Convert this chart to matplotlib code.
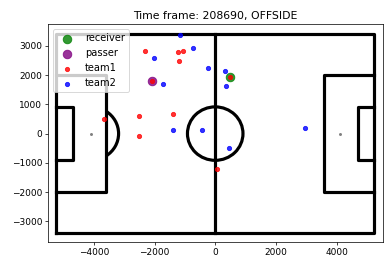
import numpy as np
import matplotlib
matplotlib.use("Agg")
import matplotlib.pyplot as plt
from matplotlib.patches import Circle, Arc

# Player data (pitch coordinates, cm)
team1_x = [-2310, -1243, -1067, -1210, -2068, 495, -3674, -2519, -1408, -2497, 55]
team1_y = [2840, 2795, 2841, 2477, 1795, 1932, 500, 614, 682, -91, -1205]
team2_x = [-1177, -748, -2002, -253, 319, 341, -1727, -1386, -440, 462, 2970]
team2_y = [3386, 2943, 2591, 2239, 2159, 1614, 1682, 114, 114, -489, 205]
receiver_xy = (495, 1932)
passer_xy = (-2068, 1795)
frame_id = 208690
event_label = "OFFSIDE"

# Pitch geometry
half_len, half_wid = 5250, 3400
box_x, box_y = 3600, 2000
goal_x, goal_y = 4700, 916
spot_x = 4100
circle_r = 915

fig = plt.figure(figsize=(6, 269 / 65), dpi=65)
ax = fig.add_axes([0.124, 0.1015, 0.858, 0.808])

lw = 3.5
kw = dict(color="black", lw=lw, zorder=1, solid_capstyle="projecting")
# outer boundary
ax.plot([-half_len, half_len, half_len, -half_len, -half_len],
        [-half_wid, -half_wid, half_wid, half_wid, -half_wid], **kw)
# halfway line
ax.plot([0, 0], [-half_wid, half_wid], **kw)
for s in (-1, 1):
    ax.plot([s * half_len, s * box_x, s * box_x, s * half_len],
            [box_y, box_y, -box_y, -box_y], **kw)
    ax.plot([s * half_len, s * goal_x, s * goal_x, s * half_len],
            [goal_y, goal_y, -goal_y, -goal_y], **kw)
ax.add_patch(Circle((0, 0), circle_r, fill=False, ec="black", lw=lw, zorder=1))
ang = np.degrees(np.arccos((spot_x - box_x) / circle_r))
ax.add_patch(Arc((-spot_x, 0), 2 * circle_r, 2 * circle_r, theta1=-ang, theta2=ang,
                 ec="black", lw=lw, zorder=1))
ax.scatter([-spot_x, spot_x], [0, 0], s=5, color="gray", zorder=2)

ax.scatter([receiver_xy[0]], [receiver_xy[1]], s=90, color="green", alpha=0.8,
           label="receiver", zorder=3)
ax.scatter([passer_xy[0]], [passer_xy[1]], s=90, color="purple", alpha=0.8,
           label="passer", zorder=3)
ax.scatter(team1_x, team1_y, s=22, color="red", alpha=0.8, label="team1", zorder=4)
ax.scatter(team2_x, team2_y, s=22, color="blue", alpha=0.8, label="team2", zorder=4)

ax.set_xlim(-5500, 5530)
ax.set_ylim(-3700, 3740)
ax.set_xticks([-4000, -2000, 0, 2000, 4000])
ax.set_yticks([-3000, -2000, -1000, 0, 1000, 2000, 3000])
ax.set_title(f"Time frame: {frame_id}, {event_label}", fontsize=12)
ax.legend(loc="upper left", fontsize=11)

fig.savefig("out.png", dpi=65)
